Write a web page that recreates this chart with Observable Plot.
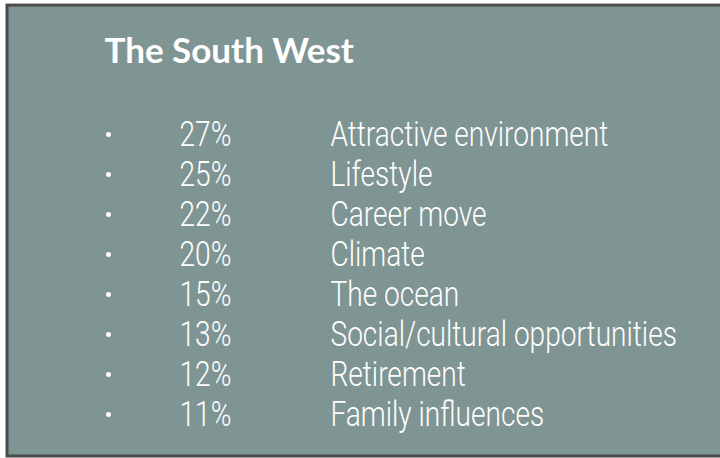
<!DOCTYPE html>
<html><head><meta charset="utf-8">
<script src="https://cdn.jsdelivr.net/npm/d3@7"></script>
<script src="https://cdn.jsdelivr.net/npm/@observablehq/plot@0.6"></script>
<style>html,body{margin:0;padding:0;background:#fff;overflow:hidden}</style>
</head><body><div id="chart"></div>
<script>
const title = "The South West";
const percents = [27, 25, 22, 20, 15, 13, 12, 11];
const reasons = ["Attractive environment", "Lifestyle", "Career move", "Climate", "The ocean", "Social/cultural opportunities", "Retirement", "Family influences"];
const rows = reasons.map((r, i) => ({reason: r, pct: percents[i] + "%"}));

const squeeze = 0.78;

const chart = Plot.plot({
  width: 720, height: 458, margin: 0,
  style: {background: "white", overflow: "hidden"},
  y: {type: "point", domain: reasons, range: [133, 414], padding: 0, axis: null},
  marks: [
    Plot.frame({fill: "#7f9594", stroke: "#4b4b4b", strokeWidth: 3, insetLeft: 6.5, insetTop: 4.6, insetBottom: 2.5, insetRight: -5}),
    Plot.text([title], {text: d => d, frameAnchor: "top-left", textAnchor: "start", dx: 104, dy: 38, fill: "white", fontSize: 35, fontWeight: "bold", fontFamily: "Lato"}),
    Plot.dot(rows, {y: "reason", frameAnchor: "left", dx: 108, r: 2.5, fill: "white", stroke: null}),
    Plot.text(rows, {y: "reason", text: "pct", frameAnchor: "left", textAnchor: "start", dx: 179, fill: "white", fontSize: 36, fontWeight: 300, fontFamily: "Roboto"}),
    Plot.text(rows, {y: "reason", text: "reason", frameAnchor: "left", textAnchor: "start", dx: 330, fill: "white", fontSize: 36, fontWeight: 300, fontFamily: "Roboto"})
  ]
});
document.getElementById("chart").appendChild(chart);

// horizontally condense the light list text (the original uses a condensed face)
chart.querySelectorAll('g[font-family="Roboto"] text').forEach(t => {
  const tr = t.getAttribute("transform") || "";
  t.setAttribute("transform", `${tr} scale(${squeeze},1)`);
});
</script>
</body></html>
